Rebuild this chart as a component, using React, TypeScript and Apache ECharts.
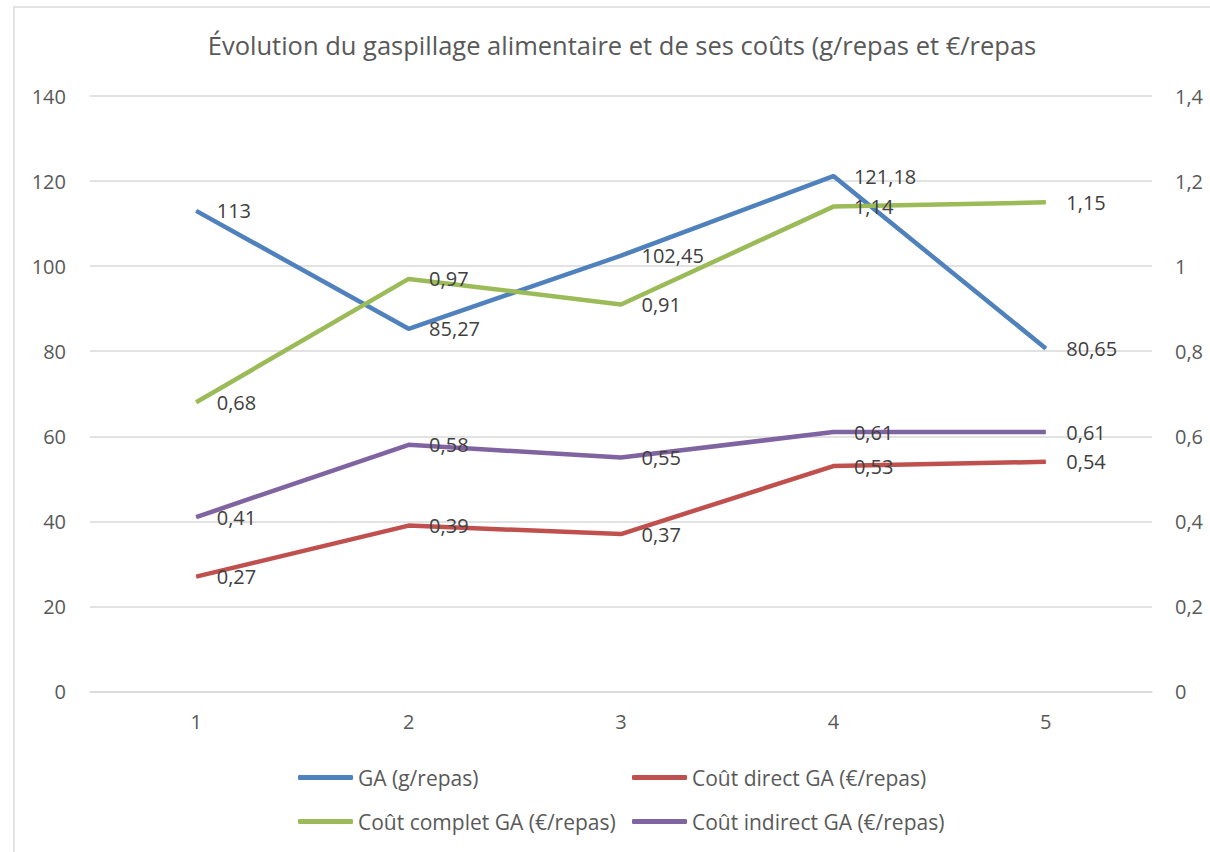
import React, { useEffect, useRef } from "react";
import * as echarts from "echarts";

const categories = ["1", "2", "3", "4", "5"];
const gaValues = [113, 85.27, 102.45, 121.18, 80.65];
const coutDirect = [0.27, 0.39, 0.37, 0.53, 0.54];
const coutComplet = [0.68, 0.97, 0.91, 1.14, 1.15];
const coutIndirect = [0.41, 0.58, 0.55, 0.61, 0.61];

const FONT = "Open Sans";
const fmt = (v: number) => String(v).replace(".", ",");

export default function App() {
  const ref = useRef<HTMLDivElement>(null);
  useEffect(() => {
    if (!ref.current) return;
    const chart = echarts.init(ref.current, null, { renderer: "svg" });
    const labelCfg = {
      show: true,
      position: "right",
      distance: 20,
      color: "#404040",
      fontFamily: FONT,
      fontSize: 20,
      formatter: (p: any) => fmt(p.value),
    };
    const mk = (name: string, data: number[], color: string, yAxisIndex: number) => ({
      name,
      type: "line",
      data,
      yAxisIndex,
      symbol: "circle",
      symbolSize: 1,
      itemStyle: { color },
      lineStyle: { color, width: 4.5 },
      label: labelCfg,
      emphasis: { disabled: true },
    });
    const legendBase = {
      orient: "horizontal",
      icon: "roundRect",
      itemWidth: 55,
      itemHeight: 5,
      textStyle: { color: "#595959", fontFamily: FONT, fontSize: 21 },
    };
    chart.setOption({
      animation: false,
      title: {
        text: "Évolution du gaspillage alimentaire et de ses coûts (g/repas et €/repas",
        left: 617,
        textAlign: "center",
        top: 27,
        textStyle: { color: "#595959", fontFamily: FONT, fontSize: 25.5, fontWeight: "normal" },
      },
      graphic: [
        {
          type: "rect",
          shape: { x: 14, y: 7, width: 1300, height: 1000 },
          style: { fill: "none", stroke: "#d9d9d9", lineWidth: 1.5 },
          silent: true,
        },
      ],
      legend: [
        { ...legendBase, left: 293, top: 762, data: [{ name: "GA (g/repas)", itemStyle: { color: "#4F81BD", opacity: 1 } }] },
        { ...legendBase, left: 627, top: 762, data: [{ name: "Coût direct GA (€/repas)", itemStyle: { color: "#C0504D", opacity: 1 } }] },
        { ...legendBase, left: 293, top: 806, data: [{ name: "Coût complet GA (€/repas)", itemStyle: { color: "#9BBB59", opacity: 1 } }] },
        { ...legendBase, left: 627, top: 806, data: [{ name: "Coût indirect GA (€/repas)", itemStyle: { color: "#8064A2", opacity: 1 } }] },
      ],
      grid: { left: 90, right: 58, top: 96, bottom: 160.5, containLabel: false },
      xAxis: {
        type: "category",
        data: categories,
        boundaryGap: true,
        axisLine: { show: true, lineStyle: { color: "#d9d9d9", width: 1.5 } },
        axisTick: { show: false },
        axisLabel: { color: "#595959", fontFamily: FONT, fontSize: 20, margin: 20 },
      },
      yAxis: [
        {
          type: "value",
          min: 0,
          max: 140,
          interval: 20,
          axisLine: { show: false },
          axisTick: { show: false },
          splitLine: { lineStyle: { color: "#d9d9d9", width: 1.5 } },
          axisLabel: { color: "#595959", fontFamily: FONT, fontSize: 20, margin: 24 },
        },
        {
          type: "value",
          min: 0,
          max: 1.4,
          interval: 0.2,
          axisLine: { show: false },
          axisTick: { show: false },
          splitLine: { show: false },
          axisLabel: {
            color: "#595959",
            fontFamily: FONT,
            fontSize: 20,
            margin: 23,
            formatter: (v: number) => fmt(Math.round(v * 10) / 10),
          },
        },
      ],
      series: [
        mk("GA (g/repas)", gaValues, "#4F81BD", 0),
        mk("Coût direct GA (€/repas)", coutDirect, "#C0504D", 1),
        mk("Coût complet GA (€/repas)", coutComplet, "#9BBB59", 1),
        mk("Coût indirect GA (€/repas)", coutIndirect, "#8064A2", 1),
      ],
    });
    return () => chart.dispose();
  }, []);
  return (
    <div
      ref={ref}
      style={{ position: "fixed", left: 0, top: 0, width: 1210, height: 852, background: "#fff" }}
    />
  );
}
